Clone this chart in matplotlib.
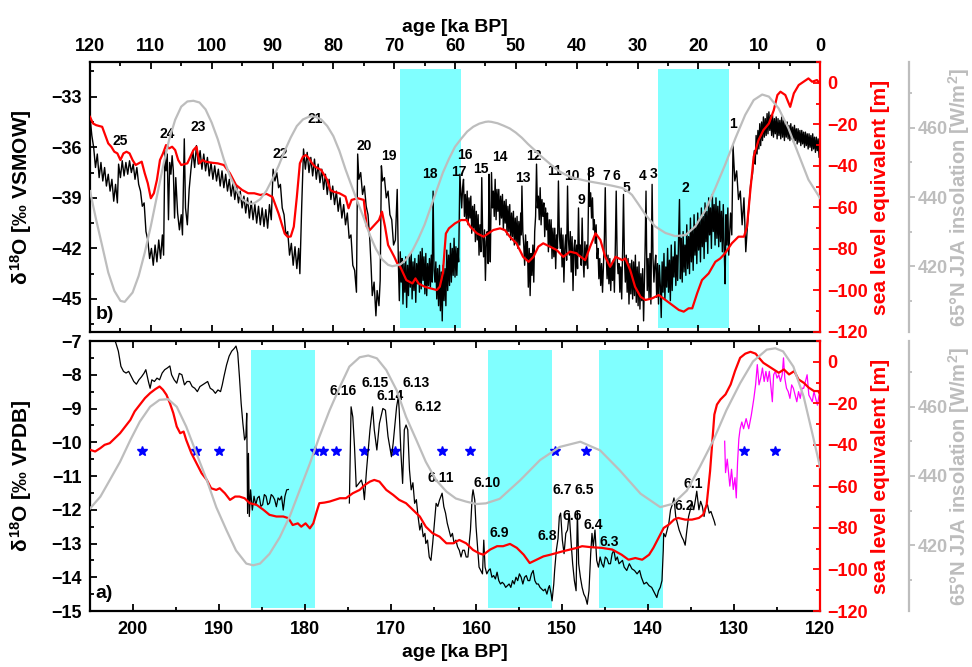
import numpy as np
import matplotlib
matplotlib.use('Agg')
import matplotlib.pyplot as plt
from matplotlib.ticker import MultipleLocator

plt.rcParams['font.family'] = ['Liberation Sans', 'DejaVu Sans']
plt.rcParams['font.weight'] = 'bold'
plt.rcParams['axes.labelweight'] = 'bold'
plt.rcParams['mathtext.fontset'] = 'custom'
plt.rcParams['mathtext.rm'] = 'Liberation Sans:bold'
plt.rcParams['mathtext.it'] = 'Liberation Sans:bold'
plt.rcParams['mathtext.bf'] = 'Liberation Sans:bold'

# ---- panel b (0-120 ka): ice core d18O (age ka, permil VSMOW)
top_d18o = [
    (120.0,-34.2),(119.7,-35.3),(119.4,-36.0),(119.1,-37.2),(118.8,-36.4),(118.5,-37.8),(118.2,-36.9),(117.9,-38.0),
    (117.6,-37.2),(117.3,-38.3),(117.0,-37.6),(116.7,-38.6),(116.4,-37.9),(116.1,-39.2),(115.8,-38.2),(115.5,-39.3),
    (115.3,-37.0),(115.0,-37.8),(114.7,-36.8),(114.4,-37.7),(114.1,-36.9),(113.8,-37.6),(113.5,-36.8),(113.2,-37.5),
    (112.9,-37.0),(112.6,-37.9),(112.3,-37.2),(112.0,-38.2),(111.7,-38.6),(111.4,-39.5),(111.1,-39.3),(110.8,-41.0),
    (110.5,-41.5),(110.2,-42.6),(109.9,-42.0),(109.6,-43.0),(109.3,-41.8),(109.0,-42.8),(108.7,-41.5),(108.4,-42.6),
    (108.1,-41.2),(107.9,-42.4),(107.7,-36.2),(107.5,-37.4),(107.3,-36.4),(107.1,-40.3),(106.9,-36.9),(106.7,-37.6),
    (106.5,-36.5),(106.3,-37.4),(106.1,-40.2),(105.9,-37.8),(105.6,-39.9),(105.3,-40.9),(105.0,-40.0),(104.8,-41.2),
    (104.5,-35.5),(104.3,-39.6),(104.0,-40.6),(103.7,-38.5),(103.4,-37.3),(103.1,-36.2),(102.8,-37.2),(102.5,-35.9),
    (102.2,-37.0),(101.9,-36.2),(101.6,-37.3),(101.3,-36.4),(101.0,-37.4),(100.7,-36.6),(100.4,-37.7),(100.1,-36.9),
    (99.8,-37.9),(99.5,-37.1),(99.2,-38.0),(98.9,-37.3),(98.6,-38.3),(98.3,-37.4),(98.0,-38.4),(97.7,-37.6),
    (97.4,-38.6),(97.1,-37.9),(96.8,-38.9),(96.5,-38.1),(96.2,-39.1),(95.9,-38.3),(95.6,-39.3),(95.3,-38.6),
    (95.0,-39.6),(94.7,-38.9),(94.4,-39.9),(94.1,-39.0),(93.8,-40.2),(93.5,-39.2),(93.2,-40.3),(92.9,-39.4),
    (92.6,-40.5),(92.3,-39.5),(92.0,-40.6),(91.7,-39.6),(91.4,-40.7),(91.1,-39.7),(90.8,-40.8),(90.5,-39.4),
    (90.2,-40.3),(89.9,-37.3),(89.6,-38.0),(89.3,-37.5),(89.0,-38.4),(88.7,-38.2),(88.4,-39.6),(88.1,-40.0),
    (87.8,-41.2),(87.5,-41.0),(87.2,-42.4),(86.9,-41.7),(86.6,-43.0),(86.3,-41.9),(86.0,-43.2),(85.7,-42.0),
    (85.5,-43.5),(85.2,-39.5),(84.9,-36.1),(84.6,-37.3),(84.3,-36.3),(84.0,-37.5),(83.7,-36.6),(83.4,-37.7),
    (83.1,-36.7),(82.8,-37.9),(82.5,-37.0),(82.2,-38.1),(81.9,-37.3),(81.6,-38.5),(81.3,-37.6),(81.0,-38.8),
    (80.7,-37.9),(80.4,-39.1),(80.1,-38.3),(79.8,-39.4),(79.5,-38.6),(79.2,-39.8),(78.9,-39.0),(78.6,-40.2),
    (78.3,-39.4),(78.0,-40.6),(77.7,-39.9),(77.4,-41.4),(77.1,-41.2),(76.8,-43.0),(76.5,-43.3),(76.2,-44.6),
    (76.0,-36.4),(75.8,-37.9),(75.5,-37.5),(75.2,-38.8),(74.9,-38.3),(74.6,-39.5),(74.3,-40.0),(74.0,-41.5),
    (73.8,-43.0),(73.6,-44.8),(73.3,-44.0),(73.0,-46.0),(72.8,-44.5),(72.5,-45.4),(72.3,-43.9),(72.1,-37.1),
    (71.9,-38.0),(71.6,-37.8),(71.3,-39.0),(71.0,-38.6),(70.7,-40.0),(70.4,-40.3),(70.1,-41.8),(69.8,-41.5),
    (69.5,-38.5),
    (69.3,-43.0),(69.15,-45.1),(69.0,-42.2),(68.85,-44.0),(68.7,-42.6),(68.55,-45.3),(68.4,-42.9),(68.25,-44.6),
    (68.1,-42.5),(67.95,-45.5),(67.8,-43.0),(67.65,-44.8),(67.5,-42.4),(67.35,-44.3),(67.2,-42.3),(67.05,-45.0),
    (66.9,-42.8),(66.75,-44.5),(66.6,-42.6),(66.45,-45.2),(66.3,-42.9),(66.15,-44.1),(66.0,-42.4),(65.85,-44.6),
    (65.7,-42.2),(65.55,-44.4),(65.4,-42.0),(65.25,-43.9),(65.1,-42.5),(64.95,-44.7),(64.8,-42.3),(64.65,-44.8),
    (64.5,-42.9),(64.35,-44.2),(64.2,-42.6),(64.05,-44.3),(63.9,-42.4),(63.75,-44.0),(63.6,-38.6),(63.45,-43.3),
    (63.3,-44.0),(63.15,-42.8),(63.0,-45.0),(62.85,-43.2),(62.7,-45.4),(62.55,-43.0),(62.4,-45.7),(62.25,-43.4),
    (62.1,-46.3),(61.95,-43.0),(61.8,-45.1),(61.65,-43.2),(61.5,-45.4),(61.35,-42.1),(61.2,-44.5),(61.05,-42.4),
    (60.9,-44.2),(60.75,-41.7),(60.6,-44.0),(60.45,-42.0),(60.3,-43.6),(60.15,-41.4),(60.0,-43.7),(59.85,-41.9),
    (59.7,-43.6),(59.55,-42.0),(59.4,-42.8),(59.2,-37.6),
    (58.9,-39.6),(58.75,-38.4),(58.6,-37.9),(58.45,-40.1),(58.3,-38.8),(58.15,-40.3),(58.0,-38.6),(57.85,-40.6),
    (57.7,-39.0),(57.55,-40.2),(57.4,-38.9),(57.25,-41.1),(57.1,-39.5),(56.95,-40.8),(56.8,-39.4),(56.65,-41.6),
    (56.5,-39.8),(56.35,-41.5),(56.2,-40.0),(56.05,-42.4),(55.9,-40.6),(55.75,-42.2),(55.6,-37.8),(55.45,-41.3),
    (55.3,-42.5),(55.15,-40.9),(55.0,-43.9),(54.85,-41.6),(54.7,-41.0),(54.55,-42.9),(54.4,-37.6),(54.3,-41.5),
    (54.2,-42.8),(54.1,-40.2),(54.0,-37.5),(53.85,-39.6),(53.7,-38.6),(53.55,-40.1),(53.4,-37.9),(53.25,-40.3),
    (53.1,-38.5),(52.95,-39.8),(52.8,-38.5),(52.65,-40.6),(52.5,-38.9),(52.35,-40.2),(52.2,-38.8),(52.05,-40.9),
    (51.9,-39.2),(51.75,-40.5),(51.6,-39.1),(51.45,-41.2),(51.3,-39.5),(51.15,-41.0),(51.0,-39.4),(50.85,-41.5),
    (50.7,-39.9),(50.55,-41.3),(50.4,-39.8),(50.25,-41.8),(50.1,-40.2),(49.95,-41.7),(49.8,-40.1),(49.65,-42.0),
    (49.5,-40.4),(49.35,-41.8),(49.2,-39.9),(49.1,-41.2),(49.0,-38.3),(48.85,-41.0),(48.7,-41.8),(48.55,-43.0),
    (48.4,-41.2),(48.25,-42.6),(48.1,-41.6),(47.95,-44.3),(47.8,-42.0),(47.65,-44.8),(47.5,-42.3),(47.35,-43.6),
    (47.2,-41.8),(47.05,-44.0),(46.9,-41.0),(46.75,-40.1),(46.6,-37.0),(46.45,-39.6),(46.3,-38.9),(46.15,-40.3),
    (46.0,-38.4),(45.85,-40.6),(45.7,-39.1),(45.55,-40.1),(45.4,-39.3),(45.25,-41.3),(45.1,-39.6),(44.95,-40.9),
    (44.8,-39.9),(44.65,-42.2),(44.5,-40.3),(44.35,-41.9),(44.2,-40.3),(44.05,-42.6),(43.9,-40.8),(43.75,-42.5),
    (43.6,-40.8),(43.45,-43.2),(43.3,-41.2),(43.15,-42.0),(43.0,-38.0),(42.85,-41.1),(42.7,-42.0),(42.55,-40.8),
    (42.4,-43.1),(42.25,-41.2),(42.1,-44.0),(41.95,-42.0),(41.8,-41.2),(41.65,-42.7),(41.5,-38.3),(41.35,-41.5),
    (41.2,-42.4),(41.05,-41.0),(40.9,-43.4),(40.75,-41.3),(40.6,-44.5),(40.45,-42.0),(40.3,-41.5),(40.15,-43.6),
    (40.0,-41.8),(39.85,-43.2),(39.7,-39.6),(39.55,-42.4),(39.4,-41.8),(39.25,-43.0),(39.1,-40.2),(38.95,-42.6),
    (38.8,-43.7),(38.65,-41.6),(38.5,-43.0),(38.35,-41.8),(38.2,-43.2),(38.1,-40.5),(38.0,-37.4),(37.85,-39.5),
    (37.7,-38.7),(37.55,-40.2),(37.4,-39.0),(37.25,-40.9),(37.1,-40.3),(36.95,-41.7),(36.8,-40.6),(36.65,-42.6),
    (36.5,-42.0),(36.35,-43.8),(36.2,-42.6),(36.05,-44.2),(35.9,-42.9),(35.75,-44.6),(35.6,-43.0),(35.45,-41.5),
    (35.3,-38.4),(35.15,-42.2),(35.0,-43.8),(34.85,-42.4),(34.7,-44.1),(34.55,-42.6),(34.4,-44.5),(34.25,-42.9),
    (34.1,-43.9),(33.95,-42.7),(33.8,-44.6),(33.65,-42.0),(33.5,-38.6),(33.35,-42.5),(33.2,-43.5),(33.05,-42.9),
    (32.9,-44.6),(32.75,-43.1),(32.6,-45.0),(32.45,-42.2),(32.3,-38.8),(32.15,-42.6),(32.0,-44.0),(31.85,-42.4),
    (31.7,-44.6),(31.55,-42.6),(31.4,-45.3),(31.25,-42.9),(31.1,-44.7),(30.95,-42.7),(30.8,-45.0),(30.65,-42.8),
    (30.5,-44.8),(30.35,-42.4),(30.2,-45.2),(30.05,-43.1),(29.9,-45.4),(29.75,-42.8),(29.6,-45.6),(29.45,-43.5),
    (29.3,-45.1),(29.15,-43.2),(29.0,-46.3),(28.85,-43.6),(28.75,-42.0),(28.6,-38.6),(28.5,-42.2),(28.4,-44.5),
    (28.25,-42.6),(28.1,-45.0),(27.95,-42.3),(27.8,-45.3),(27.7,-42.0),(27.6,-38.2),(27.45,-42.6),(27.3,-44.0),
    (27.15,-43.0),
    (27.0,-42.4),(26.85,-44.9),(26.7,-42.9),(26.55,-45.3),(26.4,-43.0),(26.25,-44.2),(26.1,-46.1),(25.95,-42.8),
    (25.8,-44.6),(25.65,-42.3),(25.5,-45.0),(25.35,-43.1),(25.2,-44.3),(25.05,-42.0),(24.9,-44.6),(24.75,-42.7),
    (24.6,-45.1),(24.45,-41.8),(24.3,-44.5),(24.15,-42.5),(24.0,-43.7),(23.85,-41.6),(23.7,-44.2),(23.55,-42.4),
    (23.4,-43.9),(23.25,-41.5),(23.1,-39.1),(22.95,-43.8),(22.8,-41.4),(22.65,-44.0),(22.5,-41.0),(22.35,-43.4),
    (22.2,-41.8),(22.05,-43.6),(21.9,-40.6),(21.75,-43.2),(21.6,-41.3),(21.45,-43.5),(21.3,-40.2),(21.15,-42.8),
    (21.0,-40.9),(20.85,-43.3),(20.7,-40.0),(20.55,-42.4),(20.4,-40.6),(20.25,-42.9),(20.1,-39.9),(19.95,-42.1),
    (19.8,-40.3),(19.65,-42.8),(19.5,-39.6),(19.35,-41.9),(19.2,-40.1),(19.05,-42.6),(18.9,-39.3),(18.75,-41.6),
    (18.6,-39.8),(18.45,-42.3),(18.3,-39.0),(18.15,-41.2),(18.0,-39.6),(17.85,-42.0),(17.7,-38.8),(17.55,-41.0),
    (17.4,-39.4),(17.25,-41.8),(17.1,-39.0),(16.95,-41.4),(16.8,-39.5),(16.65,-41.9),(16.5,-39.2),(16.35,-41.6),
    (16.2,-39.8),(16.05,-42.2),(15.9,-39.4),(15.75,-42.0),(15.6,-44.1),(15.45,-40.0),(15.3,-41.8),(15.15,-39.6),
    (15.0,-42.4),
    (14.7,-39.9),(14.5,-41.2),(14.3,-35.9),(14.0,-38.0),(13.7,-37.4),(13.4,-39.1),(13.1,-38.6),
    (12.8,-40.6),(12.5,-39.0),(12.2,-42.2),(11.9,-40.5),(11.7,-39.6),(11.4,-38.2),(11.1,-37.6),
    (10.8,-36.2),(10.65,-37.0),(10.5,-35.3),(10.35,-36.4),(10.2,-35.0),(10.05,-36.1),(9.9,-34.6),(9.75,-35.9),
    (9.6,-34.5),(9.45,-35.6),(9.3,-34.2),(9.15,-35.4),(9.0,-34.3),(8.85,-35.3),(8.7,-34.0),(8.55,-35.2),
    (8.4,-33.9),(8.25,-35.0),(8.1,-34.1),(7.95,-35.3),(7.8,-34.1),(7.65,-35.4),(7.5,-34.3),(7.35,-35.2),
    (7.2,-34.2),(7.05,-35.5),(6.9,-34.3),(6.75,-35.3),(6.6,-34.4),(6.45,-35.5),(6.3,-34.2),(6.15,-35.4),
    (6.0,-34.4),(5.85,-35.6),(5.7,-34.5),(5.55,-35.4),(5.4,-34.5),(5.25,-35.5),(5.1,-34.7),(4.95,-35.6),
    (4.8,-34.6),(4.65,-35.5),(4.5,-34.8),(4.35,-35.7),(4.2,-34.7),(4.05,-35.6),(3.9,-34.9),(3.75,-35.8),
    (3.6,-34.9),(3.45,-35.7),(3.3,-35.0),(3.15,-35.9),(3.0,-35.0),(2.85,-35.8),(2.7,-35.1),(2.55,-36.0),
    (2.4,-35.1),(2.25,-35.9),(2.1,-35.2),(1.95,-36.1),(1.8,-35.2),(1.65,-36.0),(1.5,-35.3),(1.35,-36.2),
    (1.2,-35.2),(1.05,-36.1),(0.9,-35.4),(0.75,-36.3),(0.6,-35.4),(0.45,-36.2),(0.3,-35.5),(0.15,-36.6),(0.0,-35.8)]

# sea level equivalent [m], panel b
top_sl = [
    (120,-16.4),(119.5,-19.6),(119,-20.4),(118,-21.2),(117,-29.2),(116.5,-30.8),(116,-33.2),(115.5,-34.0),
    (115,-37.2),(114.5,-34),(114,-33.2),(113.5,-34),(113,-37.2),(112.5,-39.6),(112,-38.8),(111.5,-38),
    (111,-43.6),(110.5,-48.4),(110,-55.6),(109.5,-53.2),(109,-46.8),(108.5,-37.2),(108,-34),(107.5,-30),
    (107,-31.6),(106.5,-30.8),(106,-32.4),(105.5,-37.2),(105,-39.6),(104,-38.8),(103,-32.4),(102.5,-30.8),
    (102,-38.8),(101.5,-37.2),(101,-38),(100,-38.5),(99,-38.8),(98,-39.6),(97,-43.6),(96,-49.2),
    (95,-51.6),(94,-53.2),(93,-53.2),(92,-54),(91,-53.5),(90,-55),(89,-63),(88,-72.6),
    (87.5,-74.2),(87,-74),(86.5,-69.3),(86,-55),(85.5,-38.8),(85,-35.6),(84.5,-34.8),(84,-36.4),
    (83.5,-38.8),(83,-40.4),(82,-42),(81,-46.8),(80.5,-51.6),(80,-52.4),(79,-53.2),(78,-54.8),
    (77.5,-60.4),(77,-56.4),(76,-55.6),(75,-56.4),(74.5,-69.3),(74,-70.9),(73,-67.7),(72.5,-66.1),
    (72,-62.1),(71.5,-69.3),(71,-78.1),(70,-83.7),(69.5,-86.9),(69,-88.6),(68,-95),(67,-96.6),
    (66.5,-94.2),(66,-96.6),(65,-98.2),(64,-99),(63,-99.8),(62.5,-98.2),(62,-91.7),(61.5,-72.6),
    (61,-70.1),(60,-67.7),(59,-66.1),(58.1,-66.1),(57.5,-69.3),(56.4,-72.5),(55.3,-74.1),(54.5,-72.5),
    (53.7,-70.9),(52.6,-70.1),(51.8,-70.9),(51.0,-74.1),(49.9,-77.3),(48.8,-83.8),(47.9,-86.2),(47.1,-83.8),
    (46.3,-78.9),(45.5,-77.3),(44.4,-78.9),(43.3,-80.5),(42.2,-83.8),(41.1,-81.3),(40.0,-82.1),(39.7,-83),
    (38.6,-85.4),(37.8,-79),(36.9,-72.5),(36.1,-75.7),(35.3,-83.8),(34.5,-88.6),(33.6,-83.8),(32.5,-85.4),
    (32.0,-84.6),(31.2,-90.2),(30.4,-98.2),(29.5,-103),(28.7,-104.6),(27.6,-103.8),(26.5,-102.2),(25.4,-104.6),
    (24.3,-107),(23.2,-109.4),(22.4,-110.2),(21.6,-108.6),(21.0,-108.6),(20.2,-101.4),(19.4,-95),(18.3,-91.8),
    (17.2,-86.2),(16.4,-84.6),(15.6,-82.1),(14.5,-77.3),(13.4,-74.1),(12.5,-74.1),(12.0,-69.3),(11.5,-53.3),
    (10.9,-35.6),(10.1,-27.6),(9.3,-22.8),(8.4,-19.6),(7.6,-13.2),(7.0,-5.9),(6.5,-4.3),(5.7,-5.9),
    (4.9,-11.6),(4.3,-5.1),(3.5,-1.1),(2.7,0.5),(1.9,2.1),(1.3,0.5),(0.5,1.3),(0,-0.3)]

# 65N JJA insolation [W/m2], panel b
top_ins = [
    (120,441.7),(119,433.5),(118,425.9),(117,418.2),(116,412.9),(115,410.0),(114.3,409.7),(113,412.4),
    (112,417.2),(111,423.9),(110,431.6),(109,440.2),(108,448.8),(107,456.5),(106,462.3),(105,466.1),
    (104,467.6),(103,467.8),(102,467.3),(101,465.3),(100,461.5),(99,456.7),(98,450.9),(97,446.1),
    (96,442.3),(95,439.4),(94,438.2),(93.5,438.0),(93,438.2),(92,439.4),(91,441.8),(90,445.2),
    (89,449.0),(88,453.3),(87,457.2),(86,460.5),(85,462.4),(84,463.2),(83.5,463.3),(83,463.2),
    (82,462.4),(81,460.5),(80,457.6),(79,453.3),(78,448.0),(77,443.2),(76,438.5),(75,434.0),
    (74,429.0),(73,425.0),(72,422.0),(71,420.4),(70.3,420.0),(69,420.5),(68,422),(67,424.5),
    (66,428),(65,432),(64,437),(63,442),(62,447),(61,451),(60,454.5),(59,456.8),
    (58,458.9),(57,460.3),(56,461.2),(55,461.7),(54.5,461.8),(54,461.7),(53,461.3),(52,460.6),
    (51,459.8),(50,458.6),(49,457.1),(48,455.3),(47,453.7),(46,452.0),(45,450.5),(44,449.0),
    (43,447.6),(42,446.6),(41,445.8),(40,445.3),(38,444.5),(36,443.9),(34,443.2),(32.5,442.6),
    (31.5,441.5),(30.9,440.6),(29.8,437.8),(28.7,434.9),(27.1,431.5),(25.4,429.6),(23.8,428.7),(22.1,429.0),
    (20.5,431.5),(18.8,436.3),(17.2,442.6),(15.6,449.3),(13.9,457.0),(12.3,463.7),(10.9,468.0),(9.5,469.6),
    (8.4,469.0),(6.8,465.6),(5.2,459.9),(3.5,452.2),(1.9,445.0),(0,439.7)]

# ---- panel a (205-120 ka): speleothem d18O (permil VPDB), two pieces
bot_d18o_1 = [
    (202.4,-6.8),(202.0,-7.05),(201.7,-7.3),(201.4,-7.75),(201.1,-7.9),(200.8,-7.95),(200.5,-7.9),(200.2,-8.05),
    (199.9,-8.2),(199.6,-8.28),(199.3,-8.15),(199.0,-8.06),(198.7,-7.95),(198.5,-7.85),(198.2,-8.2),(198.0,-8.4),
    (197.8,-8.15),(197.5,-8.2),(197.2,-8.1),(196.9,-8.15),(196.6,-7.95),(196.3,-7.85),(196.0,-7.8),(195.7,-7.74),
    (195.5,-8.0),(195.2,-8.15),(194.9,-8.25),(194.6,-7.96),(194.3,-8.0),(194.0,-8.3),(193.7,-8.2),(193.4,-8.2),
    (193.1,-8.35),(192.8,-8.4),(192.5,-8.5),(192.2,-8.35),(191.9,-8.3),(191.6,-8.25),(191.3,-8.2),(191.0,-8.4),
    (190.7,-8.45),(190.4,-8.55),(190.1,-8.45),(189.8,-8.5),(189.6,-8.3),(189.4,-8.05),(189.1,-7.71),(188.8,-7.45),
    (188.5,-7.3),(188.2,-7.22),(188.0,-7.15),(187.8,-7.35),(187.6,-8.06),(187.4,-8.85),(187.2,-9.44),(187.0,-9.93),
    (186.85,-9.83),(186.75,-9.14),(186.65,-12.11),(186.55,-10.33),(186.45,-12.2),(186.3,-11.41),(186.1,-12.01),(185.9,-11.6),
    (185.7,-11.85),(185.5,-11.65),(185.3,-11.6),(185.1,-11.9),(184.9,-11.85),(184.7,-11.55),(184.5,-11.6),(184.3,-11.85),
    (184.1,-11.8),(183.9,-11.55),(183.7,-11.6),(183.5,-11.7),(183.3,-11.91),(183.1,-11.65),(182.9,-11.71),(182.7,-11.6),
    (182.5,-12.01),(182.3,-11.6),(182.1,-11.41),(181.9,-11.4)]

bot_d18o_2 = [
    (174.8,-11.8),(174.6,-8.95),(174.4,-9.25),(174.2,-10.14),(174.0,-11.32),(173.7,-11.22),(173.4,-11.12),(173.2,-11.32),
    (173.05,-11.7),(172.8,-10.82),(172.4,-9.63),(172.1,-8.95),(171.9,-9.63),(171.6,-10.23),(171.3,-9.44),(170.9,-9.0),
    (170.6,-9.05),(170.3,-9.83),(169.9,-10.43),(169.7,-10.03),(169.3,-8.95),(169.1,-8.65),(169.0,-9.04),(168.8,-10.3),
    (168.6,-11.22),(168.4,-9.63),(168.2,-9.49),(168.0,-9.63),(167.8,-10.82),(167.6,-11.41),(167.4,-11.2),(167.2,-11.81),
    (167.0,-11.7),(166.8,-12.2),(166.6,-12.6),(166.4,-12.4),(166.2,-12.8),(166.0,-12.7),(165.9,-13.0),(165.7,-12.9),
    (165.5,-13.4),(165.3,-13.5),(165.1,-13.0),(164.9,-12.4),(164.7,-11.81),(164.5,-11.9),(164.3,-11.71),(164.0,-11.51),
    (163.8,-11.91),(163.6,-12.1),(163.4,-12.4),(163.2,-12.6),(163.0,-12.8),(162.8,-12.7),(162.6,-13.0),(162.4,-12.9),
    (162.2,-13.1),(162.0,-13.2),(161.8,-13.4),(161.6,-13.2),(161.4,-13.2),(161.2,-13.4),(161.0,-13.4),(160.85,-13.0),
    (160.7,-12.6),(160.5,-11.6),(160.4,-11.41),(160.2,-11.71),(160.05,-12.5),(159.9,-13.0),(159.7,-13.7),(159.5,-13.8),
    (159.3,-13.9),(159.15,-12.9),(159.0,-13.7),(158.8,-13.9),(158.6,-13.8),(158.4,-13.75),(158.2,-14.0),(158.0,-13.95),
    (157.8,-14.05),(157.6,-13.85),(157.4,-14.1),(157.2,-14.2),(157.0,-14.15),(156.8,-14.2),(156.6,-14.3),(156.4,-14.25),
    (156.2,-14.2),(156.0,-14.3),(155.8,-14.1),(155.6,-14.2),(155.4,-14.0),(155.2,-14.1),(155.0,-13.9),(154.8,-14.0),
    (154.6,-14.2),(154.4,-14.0),(154.2,-13.95),(154.0,-14.1),(153.8,-14.1),(153.6,-13.9),(153.4,-13.8),(153.2,-14.1),
    (153.0,-14.2),(152.8,-14.2),(152.6,-14.3),(152.4,-14.35),(152.2,-14.4),(152.0,-14.35),(151.8,-14.5),(151.6,-14.3),
    (151.5,-14.25),(151.3,-14.5),(151.2,-14.7),(151.0,-14.2),(150.9,-13.8),(150.7,-13.2),(150.5,-12.85),(150.35,-12.2),
    (150.2,-12.1),(150.0,-12.9),(149.8,-13.3),(149.6,-12.7),(149.4,-12.6),(149.2,-12.1),(149.0,-12.9),(148.8,-13.6),
    (148.6,-14.1),(148.4,-14.4),(148.25,-12.05),(148.1,-13.6),(147.9,-14.0),(147.7,-14.3),(147.5,-14.5),(147.3,-14.6),
    (147.1,-14.8),(146.9,-14.4),(146.7,-13.3),(146.55,-12.7),(146.4,-13.1),(146.2,-12.6),(146.0,-13.5),(145.8,-13.7),
    (145.6,-13.4),(145.4,-13.6),(145.2,-13.7),(145.0,-13.4),(144.8,-13.45),(144.6,-13.6),(144.4,-13.6),(144.2,-13.3),
    (144.0,-13.2),(143.8,-13.5),(143.6,-13.4),(143.4,-13.6),(143.2,-13.55),(143.0,-13.5),(142.8,-13.7),(142.5,-13.8),
    (142.2,-13.6),(141.9,-13.75),(141.6,-13.8),(141.3,-13.9),(141.0,-13.8),(140.8,-14.0),(140.5,-14.2),(140.2,-14.15),
    (139.9,-14.25),(139.6,-14.3),(139.4,-14.4),(139.2,-14.5),(139.0,-14.6),(138.8,-14.4),(138.6,-14.3),(138.4,-14.1),
    (138.25,-13.2),(138.2,-12.7),(138.0,-12.8),(137.8,-12.6),(137.6,-12.4),(137.4,-12.0),(137.2,-11.85),(137.0,-11.65),
    (136.8,-12.2),(136.6,-12.4),(136.4,-12.6),(136.1,-12.8),(135.9,-12.9),(135.7,-13.05),(135.5,-12.6),(135.3,-12.2),
    (135.1,-12.0),(134.9,-11.8),(134.7,-12.0),(134.5,-11.7),(134.35,-11.45),(134.1,-12.0),(133.9,-11.75),(133.7,-11.9),
    (133.5,-12.2),(133.3,-11.9),(133.1,-11.85),(132.9,-12.1),(132.7,-12.05),(132.5,-12.2),(132.3,-12.35),(132.2,-12.45)]

# second record (magenta), permil
bot_mag = [
    (131.1,-9.97),(131.0,-10.9),(130.8,-10.5),(130.5,-11.3),(130.3,-10.8),(130.1,-11.4),(129.9,-11.05),(129.75,-11.65),
    (129.6,-10.6),(129.45,-9.9),(129.3,-9.6),(129.1,-9.4),(128.9,-9.6),(128.6,-9.3),(128.3,-9.6),(128.0,-9.2),
    (127.7,-8.7),(127.5,-8.3),(127.3,-7.7),(127.1,-8.3),(126.9,-8.1),(126.7,-7.8),(126.5,-8.2),(126.3,-7.9),
    (126.1,-8.2),(125.9,-7.9),(125.7,-8.4),(125.55,-8.8),(125.4,-8.0),(125.2,-7.9),(125.0,-8.1),(124.8,-8.0),
    (124.6,-8.2),(124.4,-8.0),(124.25,-7.5),(124.1,-8.1),(123.9,-8.4),(123.7,-8.5),(123.5,-8.7),(123.3,-8.3),
    (123.1,-8.4),(122.9,-8.6),(122.7,-8.8),(122.5,-8.5),(122.3,-8.7),(122.1,-8.4),(121.9,-8.4),(121.7,-8.2),
    (121.5,-8.0),(121.3,-8.6),(121.1,-8.7),(120.9,-8.8),(120.7,-8.5),(120.5,-8.7),(120.3,-8.9),(120.1,-8.6),(120.0,-8.8)]

bot_sl = [
    (205,-42.4),(204.4,-43.2),(203.8,-41.6),(203.3,-40.0),(202.7,-39.2),(202.1,-36.8),(201.5,-34.4),(200.9,-31.2),
    (200.3,-28.0),(199.8,-23.9),(199.2,-20.7),(198.6,-17.5),(198.0,-15.1),(197.4,-13.2),(196.9,-11.9),(196.5,-13.5),
    (196.1,-15.9),(195.7,-19.9),(195.3,-24.7),(194.9,-31.2),(194.5,-34.4),(194.1,-33.6),(193.8,-37.6),(193.2,-44.0),
    (192.6,-48.8),(192.0,-53.7),(191.4,-56.9),(190.9,-60.9),(190.3,-61.7),(189.9,-60.9),(189.3,-63.3),(188.7,-66.5),
    (188.1,-64.9),(187.6,-64.9),(187.0,-65.7),(186.4,-68.1),(185.6,-68.9),(184.8,-71.3),(184.1,-73.7),(183.3,-74.5),
    (182.5,-74.5),(181.9,-75.3),(181.4,-78.6),(180.8,-77.8),(180.4,-79.4),(179.9,-77.8),(179.4,-80.2),(179.0,-77.8),
    (178.6,-72.1),(178.3,-68.1),(177.7,-67.8),(177.1,-67.3),(176.5,-66.5),(175.9,-65.7),(175.2,-65.7),(174.4,-63.3),
    (173.6,-61.7),(173.0,-59.3),(172.4,-57.7),(171.9,-56.9),(171.3,-57.7),(170.5,-61.7),(169.7,-64.1),(169.0,-66.5),
    (168.2,-68.1),(167.4,-71.3),(166.6,-74.5),(165.9,-79.4),(165.1,-82.6),(164.3,-84.2),(163.5,-87.4),(162.7,-87.4),
    (162.0,-85.8),(161.2,-87.4),(160.4,-90.6),(159.7,-92.2),(159.2,-92.9),(158.4,-90.4),(157.6,-88.8),(156.9,-88.8),
    (156.1,-87.7),(155.3,-89.6),(154.5,-92.9),(153.8,-96.9),(153.0,-95.3),(152.2,-93.7),(151.4,-92.9),(150.7,-92.1),
    (149.9,-91.2),(149.1,-90.4),(148.3,-89.6),(147.7,-88.8),(146.6,-89.3),(145.4,-89.6),(144.2,-90.4),(143.1,-92.9),
    (142.3,-95.3),(141.5,-94.5),(140.7,-95.3),(139.9,-92.9),(139.4,-89.6),(138.8,-84.8),(138.2,-80.0),(137.6,-78.4),
    (137.0,-76.0),(136.5,-75.2),(135.7,-76.0),(134.9,-76.0),(134.1,-75.2),(133.6,-73.6),(133.2,-68.8),(132.8,-52.7),
    (132.5,-36.6),(132.3,-25.4),(132.0,-20.6),(131.6,-18.2),(131.0,-15.7),(130.4,-10.9),(129.9,-4.5),(129.3,1.9),
    (128.7,3.9),(128.1,4.8),(127.5,3.9),(127.1,1.9),(126.6,-0.5),(126.0,-2.1),(125.4,-3.7),(124.8,-5.3),
    (124.2,-3.7),(123.6,-6.1),(123.0,-4.5),(122.5,-8.5),(121.9,-10.1),(121.3,-12.5),(120.7,-14.1),(120.2,-14.1),(119.9,-16.5)]

bot_ins = [
    (205,430.6),(203.8,434.0),(202.7,438.8),(201.5,444.1),(200.3,450.4),(199.2,455.7),(198.0,460.0),(196.9,462.0),
    (195.9,462.2),(194.9,460.0),(193.8,454.3),(192.6,446.5),(191.4,438.8),(190.3,431.0),(189.1,424.3),(188.0,418.5),
    (186.8,414.7),(186.0,414.2),(185.2,414.7),(184.1,417.5),(182.9,422.3),(181.7,428.6),(180.6,435.8),(179.4,443.6),
    (178.3,451.3),(177.1,459.0),(175.9,465.8),(174.8,471.6),(173.6,474.3),(172.6,474.8),(171.6,474.0),(170.5,470.6),
    (169.3,464.8),(168.2,457.1),(167.0,450.4),(165.9,444.1),(164.7,438.8),(163.5,435.5),(162.4,433.5),(161.2,432.6),
    (160.0,431.9),(158.9,432.1),(157.3,433.4),(154.9,438.8),(152.6,444.6),(150.3,448.4),(147.9,449.9),(145.6,447.4),
    (143.3,441.6),(140.9,434.9),(138.6,431.0),(137.1,432.0),(135.5,435.8),(134.0,442.6),(132.4,450.4),(130.9,459.0),
    (129.3,466.8),(127.8,473.1),(126.2,476.5),(125.2,476.9),(124.3,476.0),(123.1,471.6),(121.9,462.9),(120.8,451.3),(120.0,442.6)]

star_ages = [199.0, 192.7, 190.0, 178.8, 177.9, 176.3, 173.1, 169.5, 164.0, 160.7, 150.9, 147.3, 128.9, 125.2]
star_level = -10.25

top_spans = [(69.0, 59.0), (26.7, 15.0)]
bot_spans = [(186.2, 178.8), (158.7, 151.2), (145.7, 138.3)]

top_events = [('25',115.1,-35.6),('24',107.3,-35.2),('23',102.2,-34.8),('22',88.8,-36.4),('21',83.0,-34.3),
              ('20',74.9,-35.9),('19',70.8,-36.5),('18',64.1,-37.6),('17',59.3,-37.45),('16',58.4,-36.45),
              ('15',55.7,-37.3),('14',52.6,-36.6),('13',48.8,-37.8),('12',47.1,-36.5),('11',43.7,-37.4),
              ('10',40.8,-37.7),('9',39.2,-39.1),('8',37.7,-37.5),('7',35.2,-37.7),('6',33.4,-37.7),
              ('5',31.9,-38.4),('4',29.2,-37.7),('3',27.3,-37.6),('2',22.1,-38.4),('1',14.3,-34.6)]
bot_events = [('6.16',175.5,-8.47),('6.15',171.8,-8.24),('6.14',170.0,-8.63),('6.13',167.0,-8.25),
              ('6.12',165.6,-8.95),('6.11',164.2,-11.05),('6.10',158.8,-11.2),('6.9',157.3,-12.69),
              ('6.8',151.8,-12.79),('6.7',150.0,-11.41),('6.5',147.4,-11.41),('6.6',148.8,-12.18),
              ('6.4',146.4,-12.45),('6.3',144.5,-12.95),('6.2',135.8,-11.88),('6.1',134.8,-11.24)]

RED = '#ff0000'
GRAY = '#bdbdbd'
CYAN = '#80ffff'
FS = 13
FL = 15

W, H = 972, 667
fig = plt.figure(figsize=(W / 100, H / 100), dpi=100)
ax_b = fig.add_axes([90 / W, 1 - 332 / H, 730 / W, 270 / H])
ax_a = fig.add_axes([90 / W, 1 - 611 / H, 730 / W, 270 / H])


def style_panel(ax, ylab, ymaj, ymin):
    for s in ax.spines.values():
        s.set_linewidth(1.6)
    ax.spines['right'].set_visible(False)
    ax.xaxis.set_major_locator(MultipleLocator(10))
    ax.xaxis.set_minor_locator(MultipleLocator(5))
    ax.yaxis.set_major_locator(MultipleLocator(ymaj))
    ax.yaxis.set_minor_locator(MultipleLocator(ymin))
    ax.tick_params(which='both', direction='in', top=True, bottom=True, left=True, right=False,
                   width=1.3, labelsize=FS)
    ax.tick_params(which='major', length=5)
    ax.tick_params(which='minor', length=3)
    ax.tick_params(axis='y', pad=6)
    ax.set_ylabel(ylab, fontsize=FL)
    ax.yaxis.set_label_coords(-56 / 730, 0.5)

    red = ax.twinx()
    for k in ('left', 'top', 'bottom'):
        red.spines[k].set_visible(False)
    red.spines['right'].set_color(RED)
    red.spines['right'].set_linewidth(1.6)
    red.set_ylim(-120, 10)
    red.yaxis.set_major_locator(MultipleLocator(20))
    red.yaxis.set_minor_locator(MultipleLocator(10))
    red.tick_params(which='both', direction='in', color=RED, labelcolor=RED, width=1.3, labelsize=FS, pad=5)
    red.tick_params(which='major', length=5)
    red.tick_params(which='minor', length=3)
    red.set_ylabel('sea level equivalent [m]', color=RED, fontsize=FL)
    red.yaxis.set_label_coords((871 - 90) / 730, 0.5)

    gray = ax.twinx()
    for k in ('left', 'top', 'bottom'):
        gray.spines[k].set_visible(False)
    gray.spines['right'].set_position(('axes', (909 - 90) / 730))
    gray.spines['right'].set_color(GRAY)
    gray.spines['right'].set_linewidth(1.6)
    gray.set_ylim(401, 479)
    gray.yaxis.set_major_locator(MultipleLocator(20))
    gray.yaxis.set_minor_locator(MultipleLocator(10))
    gray.tick_params(which='both', direction='out', color=GRAY, labelcolor=GRAY, width=1.3, labelsize=FS, pad=2)
    gray.tick_params(which='major', length=4)
    gray.tick_params(which='minor', length=2.5)
    gray.set_ylabel('65°N JJA insolation [W/m$^2$]', color=GRAY, fontsize=FL - 0.5)
    gray.yaxis.set_label_coords((946 - 90) / 730, 0.5)
    return red, gray


# ---------- panel b
red_b, gray_b = style_panel(ax_b, r'$\delta^{18}$O [‰ VSMOW]', 3, 1.5)
ax_b.set_xlim(120, 0)
ax_b.set_ylim(-46.96, -30.94)
ax_b.tick_params(axis='x', labeltop=True, labelbottom=False, pad=5)
ax_b.xaxis.set_label_position('top')
ax_b.set_xlabel('age [ka BP]', fontsize=FS + 1)
ax_b.xaxis.set_label_coords(0.5, 1 + 30 / 270)
for a0, a1 in top_spans:
    ax_b.fill_between([a0, a1], -46.72, -31.36, color=CYAN, lw=0, zorder=0)
x, y = np.array(top_d18o).T
ax_b.plot(x, y, color='black', lw=1.0, zorder=2)
x, y = np.array(top_sl).T
red_b.plot(x, y, color=RED, lw=1.6)
x, y = np.array(top_ins).T
gray_b.plot(x, y, color=GRAY, lw=1.6)
gray_b.set_xlim(120, 0)
for txt, xa, ya in top_events:
    ax_b.text(xa, ya, txt, fontsize=10, ha='center', va='center', zorder=5)
ax_b.text(0.008, 0.065, 'b)', transform=ax_b.transAxes, fontsize=FS + 1, va='center', zorder=5)

# ---------- panel a
red_a, gray_a = style_panel(ax_a, r'$\delta^{18}$O [‰ VPDB]', 1, 0.5)
ax_a.set_xlim(205, 120)
ax_a.set_ylim(-15, -7)
ax_a.tick_params(axis='x', labeltop=False, labelbottom=True, pad=7)
ax_a.set_xlabel('age [ka BP]', fontsize=FS + 1)
ax_a.xaxis.set_label_coords(0.5, -33 / 270)
for a0, a1 in bot_spans:
    ax_a.fill_between([a0, a1], -14.91, -7.27, color=CYAN, lw=0, zorder=0)
for seg in (bot_d18o_1, bot_d18o_2):
    x, y = np.array(seg).T
    ax_a.plot(x, y, color='black', lw=0.9, zorder=2)
x, y = np.array(bot_mag).T
ax_a.plot(x, y, color='#ff00ff', lw=0.9, zorder=2)
ax_a.plot(star_ages, [star_level] * len(star_ages), ls='none', marker='*', ms=7, color='#0000ff', zorder=1)
x, y = np.array(bot_sl).T
red_a.plot(x, y, color=RED, lw=1.6)
x, y = np.array(bot_ins).T
gray_a.plot(x, y, color=GRAY, lw=1.6)
gray_a.set_xlim(205, 120)
for txt, xa, ya in bot_events:
    ax_a.text(xa, ya, txt, fontsize=10, ha='center', va='center', zorder=5)
ax_a.text(0.008, 0.065, 'a)', transform=ax_a.transAxes, fontsize=FS + 1, va='center', zorder=5)

fig.savefig('out.png', dpi=100)
